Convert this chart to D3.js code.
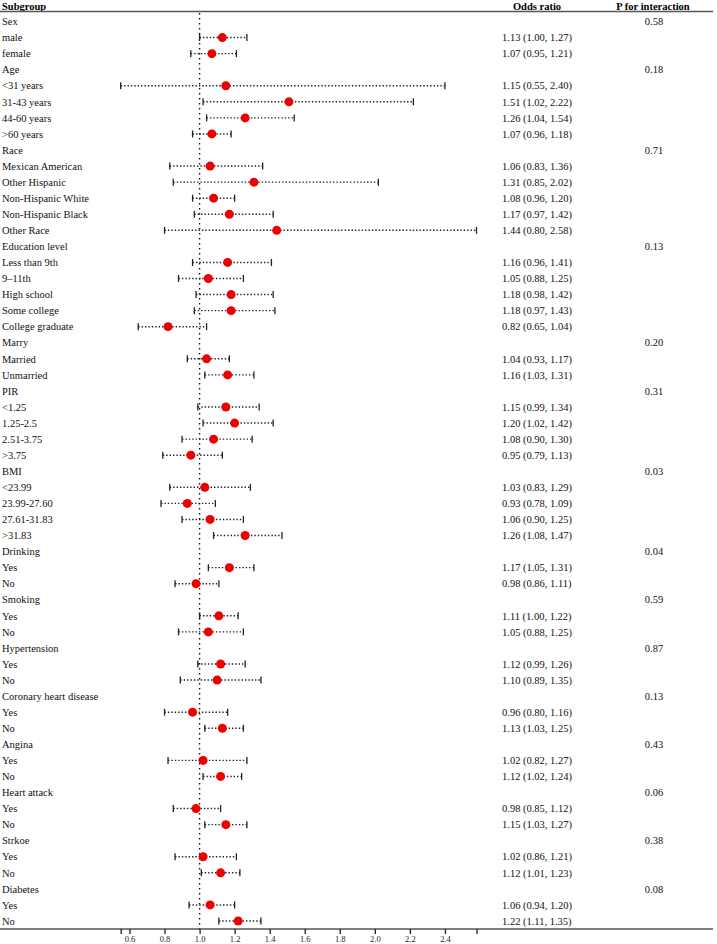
<!DOCTYPE html>
<html>
<head>
<meta charset="utf-8">
<script src="https://cdn.jsdelivr.net/npm/d3@7"></script>
<style>
  body { margin: 0; background: #fff; }
  svg text { font-family: "Liberation Serif", "Times New Roman", serif; }
</style>
</head>
<body>
<div id="chart"></div>
<script>
// rows of the forest plot, top to bottom
var labels = ["Sex","male","female","Age","<31 years","31-43 years","44-60 years",">60 years",
  "Race","Mexican American","Other Hispanic","Non-Hispanic White","Non-Hispanic Black","Other Race",
  "Education level","Less than 9th","9\u201311th","High school","Some college","College graduate",
  "Marry","Married","Unmarried","PIR","<1.25","1.25-2.5","2.51-3.75",">3.75",
  "BMI","<23.99","23.99-27.60","27.61-31.83",">31.83","Drinking","Yes","No","Smoking","Yes","No",
  "Hypertension","Yes","No","Coronary heart disease","Yes","No","Angina","Yes","No",
  "Heart attack","Yes","No","Strkoe","Yes","No","Diabetes","Yes","No"]

// null = group header row
var or = [null,1.13,1.07,null,1.15,1.51,1.26,1.07,null,1.06,1.31,1.08,1.17,1.44,
  null,1.16,1.05,1.18,1.18,0.82,null,1.04,1.16,null,1.15,1.20,1.08,0.95,
  null,1.03,0.93,1.06,1.26,null,1.17,0.98,null,1.11,1.05,null,1.12,1.10,
  null,0.96,1.13,null,1.02,1.12,null,0.98,1.15,null,1.02,1.12,null,1.06,1.22]
var lower = [null,1.00,0.95,null,0.55,1.02,1.04,0.96,null,0.83,0.85,0.96,0.97,0.80,
  null,0.96,0.88,0.98,0.97,0.65,null,0.93,1.03,null,0.99,1.02,0.90,0.79,
  null,0.83,0.78,0.90,1.08,null,1.05,0.86,null,1.00,0.88,null,0.99,0.89,
  null,0.80,1.03,null,0.82,1.02,null,0.85,1.03,null,0.86,1.01,null,0.94,1.11]
var upper = [null,1.27,1.21,null,2.40,2.22,1.54,1.18,null,1.36,2.02,1.20,1.42,2.58,
  null,1.41,1.25,1.42,1.43,1.04,null,1.17,1.31,null,1.34,1.42,1.30,1.13,
  null,1.29,1.09,1.25,1.47,null,1.31,1.11,null,1.22,1.25,null,1.26,1.35,
  null,1.16,1.25,null,1.27,1.24,null,1.12,1.27,null,1.21,1.23,null,1.20,1.35]
var pInter = ["0.58",null,null,"0.18",null,null,null,null,"0.71",null,null,null,null,null,
  "0.13",null,null,null,null,null,"0.20",null,null,"0.31",null,null,null,null,
  "0.03",null,null,null,null,"0.04",null,null,"0.59",null,null,"0.87",null,null,
  "0.13",null,null,"0.43",null,null,"0.06",null,null,"0.38",null,null,"0.08",null,null]

var xTicks = [0.6,0.8,1.0,1.2,1.4,1.6,1.8,2.0,2.2,2.4]

var width = 717, height = 944
var svg = d3.select("#chart").append("svg")
  .attr("width", width).attr("height", height)

var x = d3.scaleLinear().domain([0.55, 2.58]).range([120.7, 476.5])
var y = d3.scalePoint().domain(d3.range(labels.length)).range([21.5, 921])

var rows = labels.map(function(l, i){
  return {label: l, or: or[i], lo: lower[i], hi: upper[i], p: pInter[i], i: i}
})

// headers
svg.append("text").attr("x", 2).attr("y", 9.5).attr("font-weight", "bold")
  .attr("font-size", 10.5).text("Subgroup")
svg.append("text").attr("x", 537).attr("y", 9.5).attr("font-weight", "bold")
  .attr("text-anchor", "middle").attr("font-size", 10.5).text("Odds ratio")
svg.append("text").attr("x", 653).attr("y", 9.5).attr("font-weight", "bold")
  .attr("text-anchor", "middle").attr("font-size", 10.5).text("P for interaction")
svg.append("line").attr("x1", 0).attr("x2", 713).attr("y1", 11.5).attr("y2", 11.5)
  .attr("stroke", "#555").attr("stroke-width", 1.5)

// reference line at 1
svg.append("line").attr("x1", x(1)).attr("x2", x(1)).attr("y1", 13).attr("y2", 929)
  .attr("stroke", "#111").attr("stroke-width", 1.4).attr("stroke-dasharray", "1.5,3.5")

var g = svg.selectAll(".row").data(rows).enter().append("g")
  .attr("transform", function(d){ return "translate(0," + y(d.i) + ")" })

g.append("text").attr("x", 2).attr("dy", "0.35em").attr("font-size", 10.5)
  .attr("fill", "#111").text(function(d){ return d.label })

g.filter(function(d){ return d.p }).append("text")
  .attr("x", 654).attr("dy", "0.35em").attr("text-anchor", "middle")
  .attr("font-size", 10.5).attr("fill", "#111").text(function(d){ return d.p })

var est = g.filter(function(d){ return d.or != null })

est.append("text").attr("x", 502).attr("dy", "0.35em").attr("font-size", 10.5)
  .attr("fill", "#111")
  .text(function(d){ return d.or.toFixed(2) + " (" + d.lo.toFixed(2) + ", " + d.hi.toFixed(2) + ")" })

est.append("line")
  .attr("x1", function(d){ return x(d.lo) }).attr("x2", function(d){ return x(d.hi) })
  .attr("stroke", "#222").attr("stroke-width", 1.4).attr("stroke-dasharray", "1.4,2")

est.append("line")
  .attr("x1", function(d){ return x(d.lo) }).attr("x2", function(d){ return x(d.lo) })
  .attr("y1", -3.5).attr("y2", 3.5).attr("stroke", "#222").attr("stroke-width", 1.3)
est.append("line")
  .attr("x1", function(d){ return x(d.hi) }).attr("x2", function(d){ return x(d.hi) })
  .attr("y1", -3.5).attr("y2", 3.5).attr("stroke", "#222").attr("stroke-width", 1.3)

est.append("circle").attr("cx", function(d){ return x(d.or) }).attr("r", 4.5)
  .attr("fill", "#ee0000")

// bottom axis
svg.append("line").attr("x1", 0).attr("x2", 713).attr("y1", 929).attr("y2", 929)
  .attr("stroke", "#555").attr("stroke-width", 1.5)

var axis = d3.axisBottom(x).tickValues([0.55].concat(xTicks, [2.58]))
  .tickSize(5).tickPadding(1.5)
  .tickFormat(function(d){ return xTicks.indexOf(d) >= 0 ? d3.format(".1f")(d) : "" })

var ax = svg.append("g").attr("transform", "translate(0,929)").call(axis)
ax.select(".domain").remove()
ax.selectAll("line").attr("stroke", "#222").attr("stroke-width", 1.3)
ax.selectAll("text").attr("font-family", "DejaVu Sans, sans-serif")
  .attr("font-size", 8.5).attr("fill", "#222")
</script>
</body>
</html>
